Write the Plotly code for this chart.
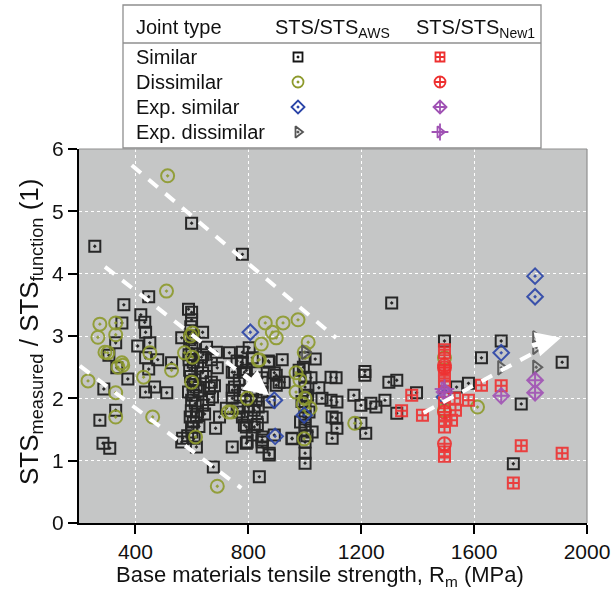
import plotly.graph_objects as go

W, H = 612, 597
PL, PR, PT, PB = 79, 587, 149, 523

# ---------------- data (MPa, STS ratio) ----------------
sim_aws = [
    (256,4.44),(599,4.81),(779,4.31),(447,3.63),(359,3.50),(419,3.34),(433,3.22),(352,3.21),(436,3.06),
    (588,3.43),(599,3.38),(599,3.26),(638,3.06),(564,2.97),(330,2.89),(408,2.84),(451,2.89),(306,2.69),
    (334,2.49),(436,2.65),(479,2.62),(447,2.47),(373,2.31),(288,2.15),(436,2.10),(468,2.18),(511,2.09),
    (330,1.81),(274,1.65),(285,1.28),(309,1.20),(528,2.57),(567,1.36),(564,1.30),(616,1.22),(676,0.90),
    (684,1.52),(743,1.22),(839,0.74),(874,1.09),(849,1.33),(892,1.41),(955,1.35),
    (609,2.89),(652,2.82),(687,2.74),(634,2.66),(669,2.62),(690,2.49),(592,2.45),(638,2.41),(669,2.26),
    (616,2.18),(662,2.17),(599,1.97),(638,1.89),(616,1.70),(599,1.54),(673,2.02),(592,2.94),(600,2.80),
    (590,2.70),(605,2.58),(595,2.35),(610,2.30),(588,2.10),(605,2.05),(612,1.92),(598,1.80),(620,1.78),
    (605,1.62),(625,1.55),(600,1.46),(585,1.40),(640,2.70),(650,2.35),(660,1.98),(645,1.75),(680,2.20),
    (596,3.15),(606,3.00),(590,2.62),(604,2.22),(594,1.70),(608,1.36),(620,2.52),(628,2.12),
    (779,2.74),(803,2.81),(779,2.57),(814,2.65),(751,2.42),(793,2.45),(828,2.41),(768,2.29),(849,2.33),
    (743,2.13),(786,2.13),(849,2.10),(810,1.97),(761,1.84),(821,1.81),(779,1.70),(849,1.70),(793,1.54),
    (814,1.41),(793,1.28),(849,1.22),(874,1.12),(874,1.94),(892,2.41),(927,2.26),(899,2.21),(920,2.62),
    (874,2.58),(733,2.73),(722,1.84),(698,1.70),(775,2.58),(743,2.42),(786,2.42),(751,2.18),(849,2.26),
    (899,2.37),(743,2.00),(828,1.97),(768,1.78),(796,1.70),(821,1.54),(786,1.57),(849,1.38),(849,1.30),
    (796,1.30),(832,1.58),(760,2.60),(805,2.30),(770,2.05),(815,2.12),(800,1.86),(835,1.86),
    (1001,2.65),(1001,2.34),(1001,2.18),(1001,1.86),(1001,1.70),(1001,1.57),(1001,1.49),(1001,1.30),
    (1001,1.12),(1001,0.96),(980,2.45),(1010,2.05),(990,1.95),(1015,1.78),(985,1.62),(1037,2.63),
    (1050,2.17),(1022,2.33),(1061,2.00),(1093,2.34),(1111,2.33),(1093,1.97),(1114,1.94),(1097,1.70),
    (1111,1.68),(1114,1.52),(1097,1.36),(1174,2.05),(1199,1.89),(1234,1.92),(1252,1.86),(1284,1.97),
    (1298,2.26),(1326,2.29),(1199,1.60),(1216,1.44),(1326,1.76),(1396,2.09),(1213,2.37),(1213,2.43),
    (909,2.26),(871,2.60),(955,1.36),(1026,1.46),(1308,3.53),(995,2.50),(1005,2.02),(1008,1.40),
    (1495,2.92),(1696,2.92),(1626,2.65),(1912,2.58),(1767,1.91),(1739,0.95),(1580,2.24),(1538,2.18),
]
dis_aws = [
    (514,5.57),(510,3.72),(274,3.19),(330,3.21),(267,2.98),(330,3.02),(602,3.05),(595,3.00),(860,3.21),
    (923,3.21),(976,3.26),(885,3.06),(899,2.97),(1012,2.90),(846,2.87),(998,2.74),(839,2.62),(969,2.41),
    (983,2.29),(969,2.10),(1001,2.00),(994,1.91),(1019,1.84),(796,2.00),(1177,1.60),(998,1.35),(740,1.78),
    (292,2.74),(302,2.73),(352,2.57),(355,2.53),(338,2.50),(232,2.28),(330,2.09),(330,1.70),(451,2.73),
    (429,2.34),(461,1.70),(528,2.45),(574,2.73),(602,2.66),(599,2.26),(613,1.38),(690,0.59),(835,2.61),
    (729,1.78),(1612,1.86),(1495,2.65),(1495,1.81),
]
expsim_aws = [(807,3.06),(892,1.97),(895,1.39),(998,1.73),(1696,2.73),(1816,3.96),(1816,3.63),(1495,2.02)]
expdis_aws = [(1001,2.74),(1820,2.97),(1820,2.82),(1820,2.50),(1696,2.49)]

sim_new1 = [
    (1495,2.78),(1495,2.73),(1495,2.45),(1495,2.41),(1495,2.29),(1495,2.18),(1495,1.93),(1495,1.65),
    (1495,1.54),(1495,1.14),(1495,1.07),(1534,1.81),(1520,1.65),(1379,2.05),(1343,1.80),(1417,1.73),
    (1626,2.21),(1580,1.97),(1531,2.00),(1696,2.20),(1767,1.24),(1912,1.12),(1739,0.64),
]
dis_new1 = [(1495,2.53),(1495,2.49),(1495,1.78),(1495,1.27)]
expsim_new1 = [(1816,2.29),(1816,2.09),(1696,2.04),(1495,2.10)]
expdis_new1 = [(1495,2.15)]

x_ticks = [400, 800, 1200, 1600, 2000]
y_ticks = [0, 1, 2, 3, 4, 5, 6]

# guide lines (MPa, ratio)
guide_lines = [((387, 5.74), (1111, 2.97)),
               ((292, 4.11), (852, 2.13)),
               ((203, 2.52), (775, 0.56)),
               ((1421, 1.77), (1880, 2.90))]
arrows = [((780, 2.39), (874, 2.05)), ((1800, 2.84), (1908, 2.97))]

legend_rows = ["Similar", "Dissimilar", "Exp. similar", "Exp. dissimilar"]

BLACK = "#161616"; OLIVE = "#8d9a2c"; BLUE = "#2b45a8"; GREY = "#555555"
RED = "#ee3030"; PURPLE = "#a052b4"
FONT = "Liberation Sans, Arial, sans-serif"

series = [
    (sim_aws, "square-open-dot", 11, BLACK),
    (dis_aws, "circle-open-dot", 13, OLIVE),
    (expsim_aws, "diamond-open-dot", 12, BLUE),
    (expdis_aws, "triangle-right-open-dot", 12, GREY),
    (sim_new1, "square-cross-open", 11, RED),
    (dis_new1, "circle-cross-open", 13, RED),
    (expsim_new1, "diamond-cross-open", 12, PURPLE),
    (expdis_new1, "triangle-right-open", 12, PURPLE),
    (expdis_new1, "cross-thin-open", 14, PURPLE),
]

fig = go.Figure()
for pts, sym, size, col in series:
    fig.add_trace(go.Scatter(
        x=[p[0] for p in pts], y=[p[1] for p in pts], mode="markers",
        marker=dict(symbol=sym, size=size, color=col, line=dict(width=2, color=col)),
        opacity=0.9, showlegend=False, xaxis="x", yaxis="y", cliponaxis=False))

# legend markers (pixel coordinates on hidden axes)
leg_rows_y = [57, 82, 107, 132]
leg_col_x = [298, 440]
leg_syms = [
    [("square-open-dot", 9, BLACK)], [("circle-open-dot", 11, OLIVE)],
    [("diamond-open-dot", 10, BLUE)], [("triangle-right-open-dot", 10, GREY)],
]
leg_syms_new = [
    [("square-cross-open", 9, RED)], [("circle-cross-open", 11, RED)],
    [("diamond-cross-open", 10, PURPLE)],
    [("triangle-right-open", 10, PURPLE), ("cross-thin-open", 12, PURPLE)],
]
for col_x, table in zip(leg_col_x, [leg_syms, leg_syms_new]):
    for ry, items in zip(leg_rows_y, table):
        for sym, size, col in items:
            fig.add_trace(go.Scatter(
                x=[col_x], y=[ry], mode="markers",
                marker=dict(symbol=sym, size=size, color=col, line=dict(width=1.8, color=col)),
                showlegend=False, xaxis="x2", yaxis="y2", cliponaxis=False))

def px(x):
    return x / W

def py(y):
    return 1 - y / H

shapes = [
    dict(type="rect", xref="x domain", yref="y domain", x0=0, x1=1, y0=0, y1=1,
         fillcolor="#c5c6c6", line=dict(width=0), layer="below"),
    dict(type="line", xref="x domain", yref="y domain", x0=0, x1=1, y0=1, y1=1,
         line=dict(color="#8f8f8f", width=1.2), layer="above"),
    dict(type="line", xref="x domain", yref="y domain", x0=1, x1=1, y0=0, y1=1,
         line=dict(color="#8f8f8f", width=1.2), layer="above"),
    # legend box
    dict(type="rect", xref="paper", yref="paper", x0=px(123), x1=px(541), y0=py(148), y1=py(5),
         line=dict(color="#8f8f8f", width=1.3), fillcolor="rgba(0,0,0,0)"),
    dict(type="line", xref="paper", yref="paper", x0=px(123), x1=px(541), y0=py(43), y1=py(43),
         line=dict(color="#8f8f8f", width=1.3)),
]
for (x0, y0), (x1, y1) in guide_lines:
    shapes.append(dict(type="line", xref="x", yref="y", x0=x0, y0=y0, x1=x1, y1=y1,
                       line=dict(color="white", width=4, dash="12px,10px"), layer="above"))

annotations = []
for (tx, ty), (hx, hy) in arrows:
    annotations.append(dict(x=hx, y=hy, ax=tx, ay=ty, xref="x", yref="y", axref="x", ayref="y",
                            text="", showarrow=True, arrowhead=2, arrowsize=1.0, arrowwidth=5,
                            arrowcolor="white", standoff=0))

def txt(s, x, y, anchor="left", size=20, angle=0):
    annotations.append(dict(text=s, x=px(x), y=py(y), xref="paper", yref="paper",
                            xanchor=anchor, yanchor="middle", showarrow=False, textangle=angle,
                            font=dict(family=FONT, size=size, color="#111111")))

txt("Joint type", 134, 27)
txt("STS/STS<sub>AWS</sub>", 332, 29, anchor="center")
txt("STS/STS<sub>New1</sub>", 475, 29, anchor="center")
for lab, ry in zip(legend_rows, leg_rows_y):
    txt(lab, 134, ry)
txt("Base materials tensile strength, R<sub>m</sub> (MPa)", 320, 576, anchor="center", size=22)
txt("STS<sub>measured</sub> / STS<sub>function</sub> (1)", 30, 332, anchor="center", size=26, angle=-90)

axis_common = dict(showline=True, linecolor="black", linewidth=2, ticks="outside", ticklen=9,
                   tickwidth=2, tickcolor="black", showgrid=True, gridcolor="white", gridwidth=1,
                   griddash="3px,3px", zeroline=False, automargin=False,
                   tickfont=dict(family=FONT, size=21, color="#111111"))

fig.update_layout(
    width=W, height=H, margin=dict(l=0, r=0, t=0, b=0),
    paper_bgcolor="white", plot_bgcolor="rgba(0,0,0,0)",
    showlegend=False,
    xaxis=dict(domain=[px(PL), px(PR)], range=[200, 2000], tickvals=x_ticks, anchor="y", **axis_common),
    yaxis=dict(domain=[py(PB), py(PT)], range=[0, 6], tickvals=y_ticks, anchor="x", **axis_common),
    xaxis2=dict(domain=[0, 1], range=[0, W], visible=False, anchor="y2", fixedrange=True),
    yaxis2=dict(domain=[py(148), 1], range=[148, 0], visible=False, anchor="x2", fixedrange=True),
    shapes=shapes, annotations=annotations,
)

fig.write_html("out.html")
